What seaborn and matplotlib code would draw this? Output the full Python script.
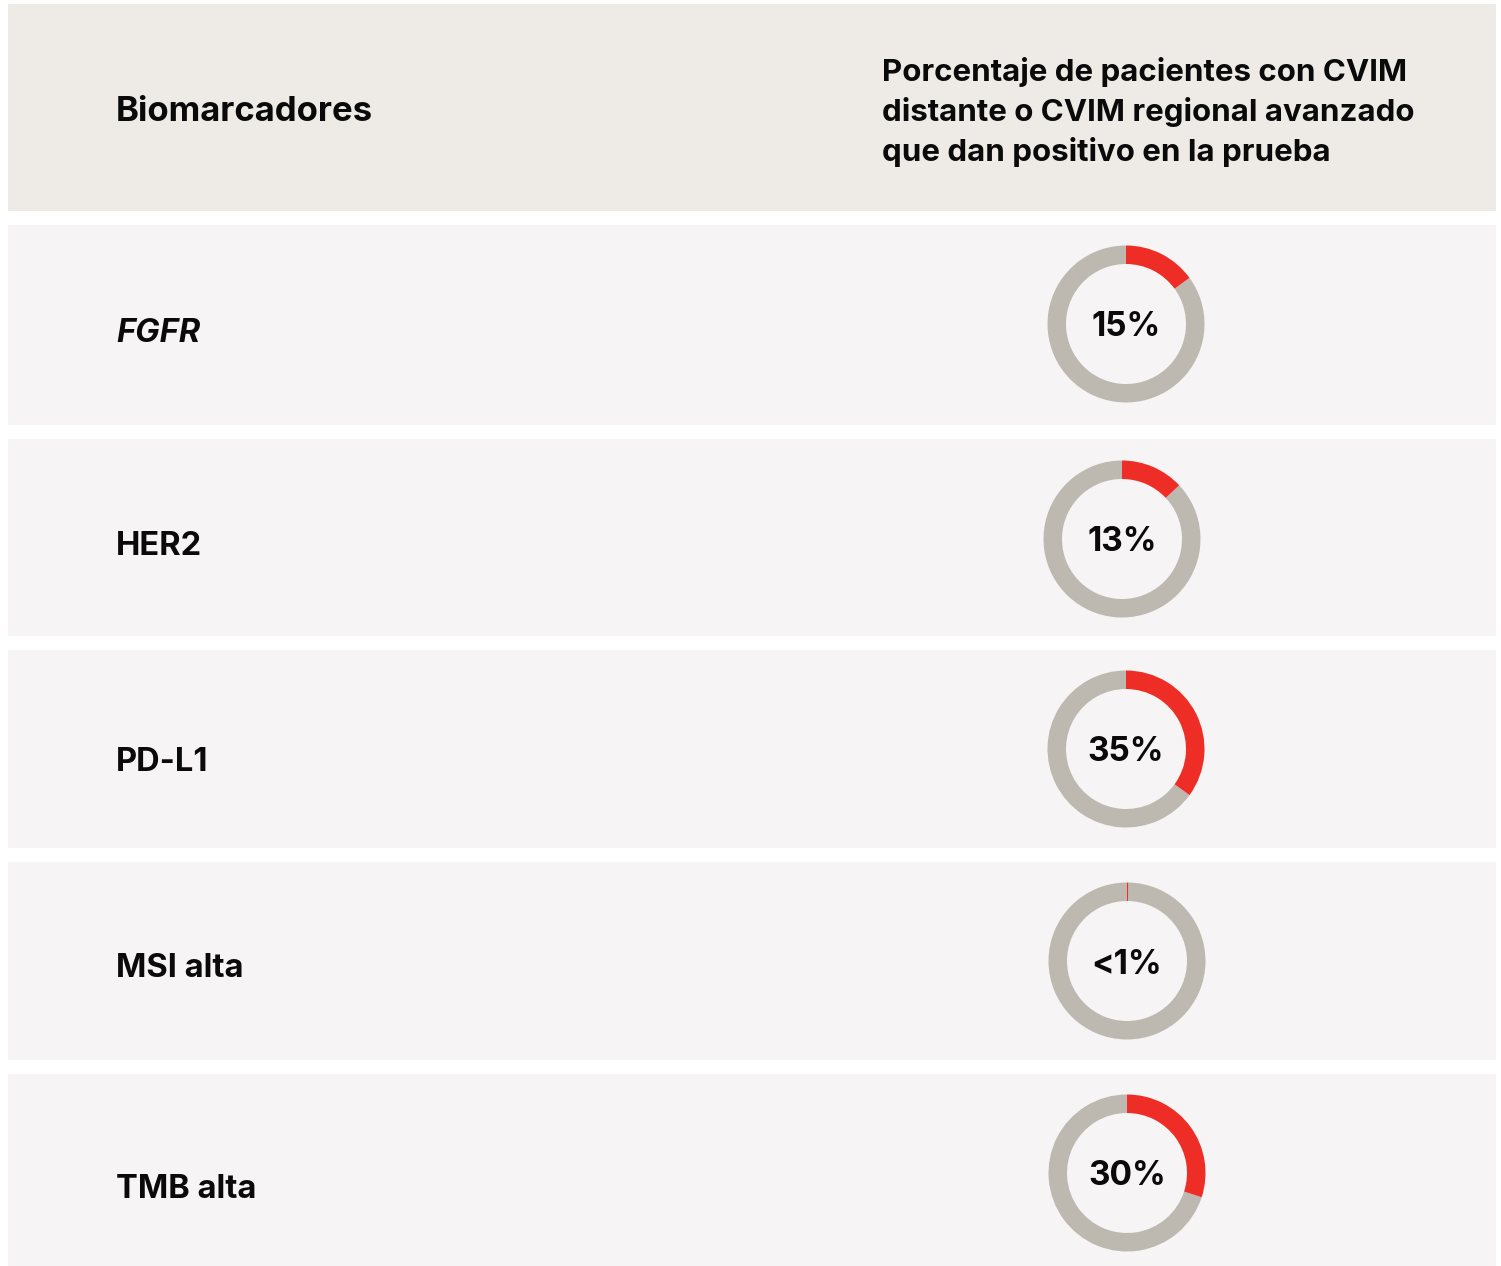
import matplotlib.pyplot as plt
import seaborn as sns
from matplotlib.patches import Rectangle, Wedge

# data
biomarkers = ["FGFR", "HER2", "PD-L1", "MSI alta", "TMB alta"]
percent_values = [15, 13, 35, 0.25, 30]
percent_labels = ["15%", "13%", "35%", "<1%", "30%"]
header_left = "Biomarcadores"
header_right = ["Porcentaje de pacientes con CVIM",
                "distante o CVIM regional avanzado",
                "que dan positivo en la prueba"]

W, H = 1501, 1266
RED = "#EE2E26"
GRAY = "#BDB9B1"
HEADER_BG = "#EEEBE6"
ROW_BG = "#F6F4F4"
INK = "#0A0A0A"

sns.set_theme(style="white")
plt.rcParams["font.family"] = ["Inter", "DejaVu Sans"]

fig = plt.figure(figsize=(W / 100, H / 100), dpi=100)
fig.patch.set_facecolor("white")
ax = fig.add_axes([0, 0, 1, 1])
ax.set_xlim(0, W)
ax.set_ylim(0, H)
ax.set_axis_off()


def fy(y):
    # pixel-from-top to data y
    return H - y


# header band
ax.add_patch(Rectangle((8, fy(211)), 1488, 207, color=HEADER_BG, lw=0))
ax.text(116, fy(121), header_left, fontsize=25, fontweight="bold",
        color=INK, va="baseline", ha="left")
for i, line in enumerate(header_right):
    ax.text(882, fy(81 + i * 40), line, fontsize=22.5, fontweight="bold",
            color=INK, va="baseline", ha="left")

row_tops = [225, 439, 650, 862, 1074]
row_bottoms = [425, 636, 848, 1060, 1266]
centers = [(1126, 324), (1122, 539), (1126, 749), (1127, 961), (1127, 1173)]
label_base = [342, 555, 771, 977, 1198]
pct_base = [336, 551, 761, 974, 1185]
R_OUT, RING = 78.5, 18.5

for i, name in enumerate(biomarkers):
    top, bot = row_tops[i], row_bottoms[i]
    ax.add_patch(Rectangle((8, fy(bot)), 1488, bot - top, color=ROW_BG, lw=0))
    ax.text(116, fy(label_base[i]), name, fontsize=23.5, fontweight="bold",
            fontstyle="italic" if name == "FGFR" else "normal",
            color=INK, va="baseline", ha="left")

    cx, cy = centers[i]
    sweep = percent_values[i] / 100 * 360
    ax.add_patch(Wedge((cx, fy(cy)), R_OUT, 90, 90 - sweep + 360,
                       width=RING, color=GRAY, lw=0))
    ax.add_patch(Wedge((cx, fy(cy)), R_OUT, 90 - sweep, 90,
                       width=RING, color=RED, lw=0))
    ax.text(cx, fy(pct_base[i]), percent_labels[i], fontsize=24,
            fontweight="bold", color=INK, va="baseline", ha="center")

fig.savefig("out.png", dpi=100, facecolor="white")
